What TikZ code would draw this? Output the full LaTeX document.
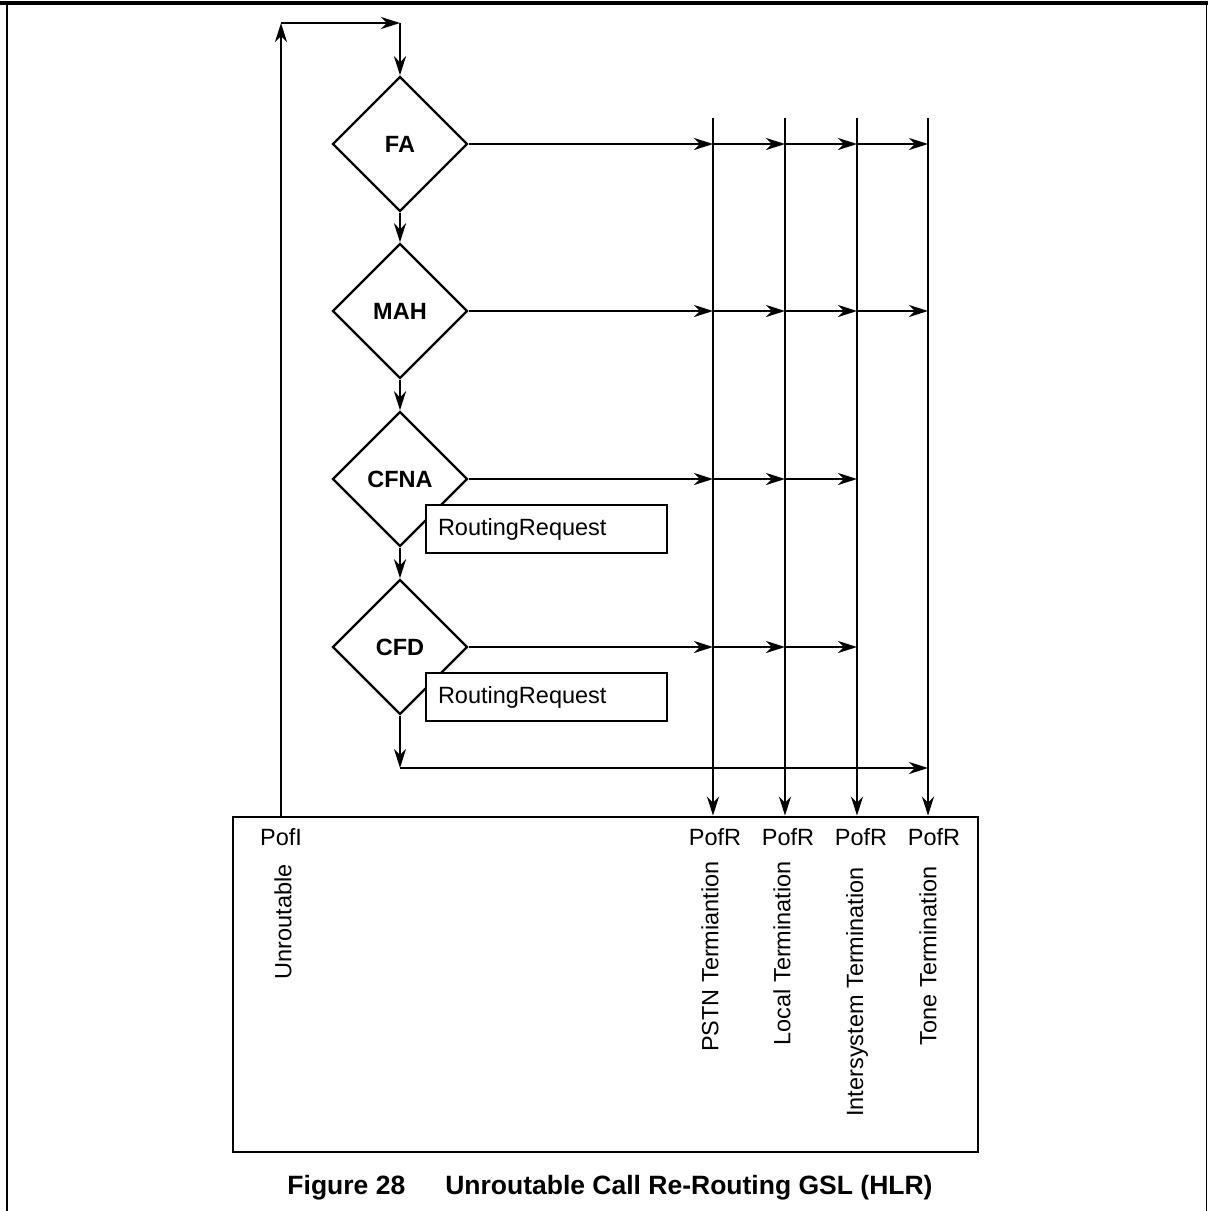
\documentclass[tikz,border=0pt]{standalone}
\usepackage{fontspec}
\setmainfont{Liberation Sans}
\usetikzlibrary{shapes.geometric,arrows.meta}
\begin{document}
\begin{tikzpicture}[x=1pt,y=-1pt,
  line join=miter,
  arr/.style={line width=2.4pt,-{Stealth[length=19pt,width=12pt,inset=6pt]}},
  dia/.style={shape=diamond,draw,line width=2.4pt,minimum width=135pt,minimum height=135pt,inner sep=0pt,font=\fontsize{23.5}{27}\selectfont\bfseries},
  rrbox/.style={draw,fill=white,line width=2.4pt,text width=217pt,inner xsep=12pt,inner ysep=0pt,minimum height=48pt,align=left,font=\fontsize{23.5}{27}\selectfont},
  lbl/.style={inner sep=0pt,font=\fontsize{23.5}{27}\selectfont},
  rlbl/.style={inner sep=0pt,rotate=90,anchor=east,font=\fontsize{23.5}{27}\selectfont}
]
\useasboundingbox (0,0) rectangle (1208,1211);
% frame
\draw[line width=4.5pt] (0,3) -- (1208,3);
\draw[line width=2.5pt] (7,3) -- (7,1211);
\draw[line width=1.5pt] (1206.5,3) -- (1206.5,1211);

% diamonds
\node[dia] (FA) at (400,144) {FA};
\node[dia] (MAH) at (400,311) {MAH};
\node[dia] (CFNA) at (400,479) {CFNA};
\node[dia] (CFD) at (400,647) {CFD};

% bottom box
\node[draw,line width=2.8pt,minimum width=745pt,minimum height=335pt,inner sep=0pt] (box) at (605.5,984.5) {};

% coordinates
\coordinate (t1) at (713,118);
\coordinate (t2) at (785,118);
\coordinate (t3) at (857,118);
\coordinate (t4) at (928,118);
\coordinate (lp) at (281,23);
\coordinate (tp) at (400,23);
\coordinate (bc) at (400,768);
\coordinate (lb) at (281,817);

% loop
\draw[arr] (lb) -- (lp);
\draw[arr] (lp) -- (tp);
\draw[arr] (tp) -- (FA.north);

% chain
\draw[arr] (FA.south) -- (MAH.north);
\draw[arr] (MAH.south) -- (CFNA.north);
\draw[arr] (CFNA.south) -- (CFD.north);
\draw[arr] (CFD.south) -- (bc);
\draw[arr] (bc) -- (bc -| t4);

% verticals
\foreach \t in {t1,t2,t3,t4} {
  \draw[arr] (\t) -- (\t |- box.north);
}

% horizontals
\foreach \d in {FA,MAH} {
  \draw[arr] (\d.east) -- (\d.east -| t1);
  \draw[arr] (\d.east -| t1) -- (\d.east -| t2);
  \draw[arr] (\d.east -| t2) -- (\d.east -| t3);
  \draw[arr] (\d.east -| t3) -- (\d.east -| t4);
}
\foreach \d in {CFNA,CFD} {
  \draw[arr] (\d.east) -- (\d.east -| t1);
  \draw[arr] (\d.east -| t1) -- (\d.east -| t2);
  \draw[arr] (\d.east -| t2) -- (\d.east -| t3);
}
\node[rrbox] (rr1) at (546.5,529) {RoutingRequest};
\node[rrbox] (rr2) at (546.5,697) {RoutingRequest};

% labels
\node[lbl] (pi) at (281,837) {PofI};
\node[lbl] (p1) at (715,837) {PofR};
\node[lbl] (p2) at (788,837) {PofR};
\node[lbl] (p3) at (861,837) {PofR};
\node[lbl] (p4) at (934,837) {PofR};
\node[rlbl] (u) at (283,864) {Unroutable};
\node[rlbl] (l1) at (710,861) {PSTN Termiantion};
\node[rlbl] (l2) at (782,861) {Local Termination};
\node[rlbl] (l3) at (857,867) {Intersystem Termination};
\node[rlbl] (l4) at (928,866) {Tone Termination};

% caption
\node[inner sep=0pt,font=\fontsize{26.5}{30}\selectfont\bfseries] (cap) at (610,1188) {Figure 28\hspace{40pt}Unroutable Call Re-Routing GSL (HLR)};
\end{tikzpicture}
\end{document}
